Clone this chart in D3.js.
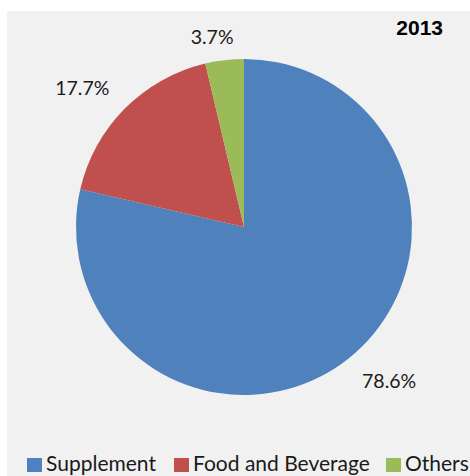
<!DOCTYPE html>
<html>
<head>
<meta charset="utf-8">
<script src="https://cdn.jsdelivr.net/npm/d3@7"></script>
<style>
  html, body { margin: 0; padding: 0; background: #ffffff; }
  svg { display: block; }
</style>
</head>
<body>
<svg id="chart" width="470" height="476"></svg>
<script>
// Market share by segment, 2013
const categories = ["Supplement", "Food and Beverage", "Others"];
const shares = [78.6, 17.7, 3.7];
const valueLabels = ["78.6%", "17.7%", "3.7%"];
const colors = ["#4f81bd", "#c0504d", "#9bbb59"];
const title = "2013";

const svg = d3.select("#chart");
const W = 470, H = 476;

// chart area panel
svg.append("rect")
  .attr("x", 7).attr("y", 11)
  .attr("width", W - 7).attr("height", H - 11)
  .attr("fill", "#f1f1f1");

const cx = 244, cy = 227, r = 168;

const pie = d3.pie().sort(null).value(d => d)(shares);
const arc = d3.arc().innerRadius(0).outerRadius(r);

const g = svg.append("g").attr("transform", `translate(${cx},${cy})`);
g.selectAll("path")
  .data(pie)
  .join("path")
  .attr("d", arc)
  .attr("fill", (d, i) => colors[i]);

// percentage labels placed outside the rim
const labelArc = d3.arc().innerRadius(r + 12).outerRadius(r + 12);
const labelFont = "Lato, 'Open Sans', sans-serif";
const labelOffsets = [[33, 20], [-34, -5], [-11, -4]];
g.selectAll("text.val")
  .data(pie)
  .join("text")
  .attr("class", "val")
  .attr("x", (d, i) => labelArc.centroid(d)[0] + labelOffsets[i][0])
  .attr("y", (d, i) => labelArc.centroid(d)[1] + labelOffsets[i][1])
  .attr("text-anchor", "middle")
  .attr("font-family", labelFont)
  .attr("font-size", 19.5)
  .attr("fill", "#1a1a1a")
  .text((d, i) => valueLabels[i]);

// title
svg.append("text")
  .attr("x", 443).attr("y", 35)
  .attr("text-anchor", "end")
  .attr("font-family", "'Liberation Sans', Arial, sans-serif")
  .attr("font-weight", "bold")
  .attr("font-size", 21)
  .attr("fill", "#000")
  .text(title);

// legend along the bottom edge
const legendX = [27, 174, 386];
const legend = svg.append("g");
categories.forEach((c, i) => {
  legend.append("rect")
    .attr("x", legendX[i]).attr("y", 458)
    .attr("width", 15).attr("height", 14)
    .attr("fill", colors[i]);
  legend.append("text")
    .attr("x", legendX[i] + 19).attr("y", 471)
    .attr("font-family", labelFont)
    .attr("font-size", 21)
    .attr("fill", "#1a1a1a")
    .text(c);
});
</script>
</body>
</html>
